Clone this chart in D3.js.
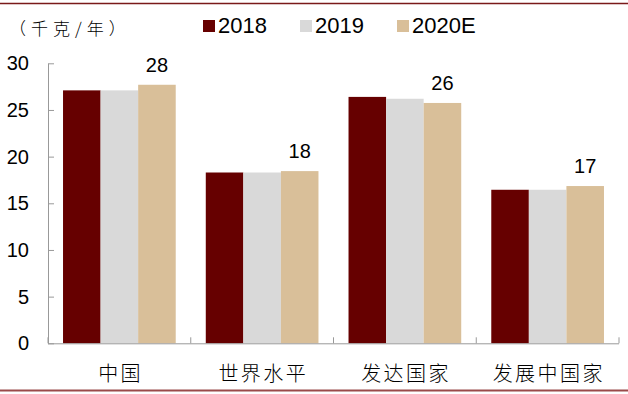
<!DOCTYPE html>
<html>
<head>
<meta charset="utf-8">
<script src="https://cdn.jsdelivr.net/npm/d3@7"></script>
<style>
  body { margin: 0; background: #fff; }
  svg { display: block; }
</style>
</head>
<body>
<svg></svg>
<script>
const width = 628;
const height = 394;

const categories = ["中国", "世界水平", "发达国家", "发展中国家"];
const seriesNames = ["2018", "2019", "2020E"];
const v2018 = [27.1, 18.3, 26.4, 16.45];
const v2019 = [27.1, 18.3, 26.2, 16.45];
const v2020 = [27.7, 18.45, 25.75, 16.85];
const topLabels = ["28", "18", "26", "17"];
const yTicks = [0, 5, 10, 15, 20, 25, 30];
const colors = ["#660000", "#d9d9d9", "#d9bf99"];

const values = [v2018, v2019, v2020];

const svg = d3.select("svg")
  .attr("width", width)
  .attr("height", height);

const numFont = "'Liberation Sans', Arial, sans-serif";
const cjkFont = "'Noto Sans CJK SC', sans-serif";

// frame lines top/bottom
svg.append("line")
  .attr("x1", 0).attr("x2", width)
  .attr("y1", 3.5).attr("y2", 3.5)
  .attr("stroke", "#7a1a1a").attr("stroke-width", 1.5);
svg.append("line")
  .attr("x1", 0).attr("x2", width)
  .attr("y1", 390.5).attr("y2", 390.5)
  .attr("stroke", "#9a4a4a").attr("stroke-width", 2);

const x = d3.scaleBand()
  .domain(categories)
  .range([48, 619])
  .paddingInner(0)
  .paddingOuter(0);

const xInner = d3.scaleBand()
  .domain(seriesNames)
  .range([0, x.bandwidth()])
  .paddingInner(0)
  .paddingOuter(0.4);

const y = d3.scaleLinear()
  .domain([0, 30])
  .range([343.3, 63.3]);

// bars
seriesNames.forEach((s, si) => {
  svg.append("g")
    .selectAll("rect")
    .data(values[si])
    .enter()
    .append("rect")
    .attr("x", (d, i) => x(categories[i]) + xInner(s))
    .attr("y", d => y(d))
    .attr("width", xInner.bandwidth())
    .attr("height", d => y(0) - y(d))
    .attr("fill", colors[si]);
});

// labels above 2020E bars
svg.append("g")
  .selectAll("text")
  .data(v2020)
  .enter()
  .append("text")
  .attr("x", (d, i) => x(categories[i]) + xInner("2020E") + xInner.bandwidth() / 2)
  .attr("y", d => y(d) - 13)
  .attr("text-anchor", "middle")
  .attr("font-family", numFont)
  .attr("font-size", 20)
  .attr("fill", "#000")
  .text((d, i) => topLabels[i]);

// y axis
const yAxis = svg.append("g")
  .attr("transform", "translate(48,0)")
  .call(d3.axisLeft(y).tickValues(yTicks).tickSizeInner(-6).tickSizeOuter(0).tickPadding(19));
yAxis.select(".domain").attr("stroke", "#999");
yAxis.selectAll(".tick line").attr("stroke", "#999");
yAxis.selectAll(".tick text")
  .attr("font-family", numFont)
  .attr("font-size", 20)
  .attr("fill", "#000");

// x axis baseline and boundary ticks
const xEdges = categories.map(c => x(c)).concat([x.range()[1]]);
svg.append("line")
  .attr("x1", 48).attr("x2", x.range()[1])
  .attr("y1", y(0) + 0.5).attr("y2", y(0) + 0.5)
  .attr("stroke", "#999").attr("stroke-width", 1);
svg.append("g")
  .selectAll("line")
  .data(xEdges)
  .enter()
  .append("line")
  .attr("x1", d => d).attr("x2", d => d)
  .attr("y1", y(0)).attr("y2", y(0) - 6)
  .attr("stroke", "#999");

// category labels
svg.append("g")
  .selectAll("text")
  .data(categories)
  .enter()
  .append("text")
  .attr("x", d => x(d) + x.bandwidth() / 2 + 1.25)
  .attr("y", 381)
  .attr("text-anchor", "middle")
  .attr("font-family", cjkFont)
  .attr("font-size", 20)
  .attr("font-weight", 300)
  .attr("letter-spacing", 2.5)
  .attr("fill", "#000")
  .text(d => d);

// unit label
svg.append("text")
  .attr("x", 9)
  .attr("y", 35)
  .attr("font-family", cjkFont)
  .attr("font-size", 17)
  .attr("font-weight", 300)
  .attr("letter-spacing", 5)
  .attr("fill", "#000")
  .text("（千克/年）");

// legend
const legendX = [203, 300, 397];
const legend = svg.append("g")
  .selectAll("g")
  .data(seriesNames)
  .enter()
  .append("g")
  .attr("transform", (d, i) => `translate(${legendX[i]},20)`);
legend.append("rect")
  .attr("width", 12).attr("height", 12)
  .attr("fill", (d, i) => colors[i]);
legend.append("text")
  .attr("x", 15)
  .attr("y", 13)
  .attr("font-family", numFont)
  .attr("font-size", 22)
  .attr("fill", "#000")
  .text(d => d);
</script>
</body>
</html>
